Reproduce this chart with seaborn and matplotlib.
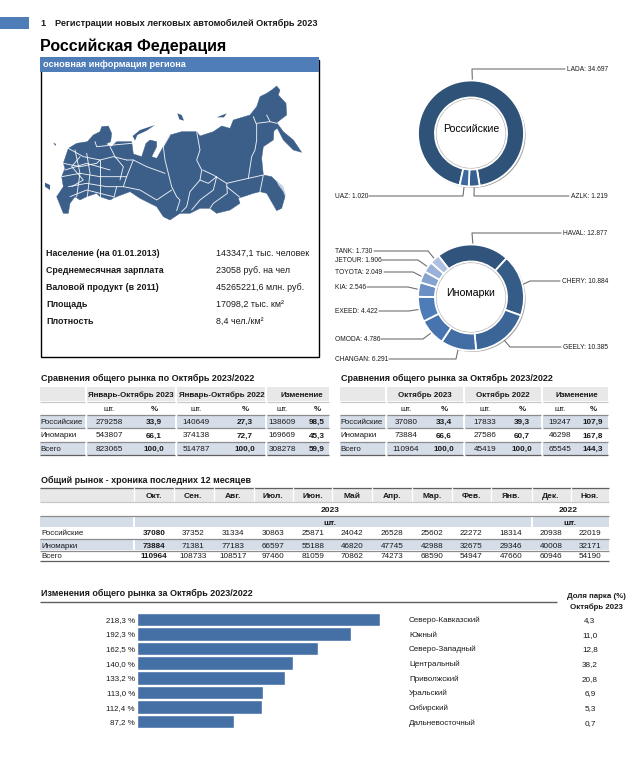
import numpy as np
import pandas as pd
import matplotlib
matplotlib.use("Agg")
import matplotlib.pyplot as plt
from matplotlib.patches import Polygon, Circle, Rectangle
import seaborn as sns

W, H = 632, 774

# data
info_labels = ["Население (на 01.01.2013)", "Среднемесячная зарплата", "Валовой продукт (в 2011)", "Площадь", "Плотность"]
info_values = ["143347,1 тыс. человек", "23058 руб. на чел", "45265221,6 млн. руб.", "17098,2 тыс. км²", "8,4 чел./км²"]

rus_brands = ["LADA", "AZLK", "UAZ"]
rus_values = [34.697, 1.219, 1.020]
imp_brands = ["HAVAL", "CHERY", "GEELY", "CHANGAN", "OMODA", "EXEED", "KIA", "TOYOTA", "JETOUR", "TANK"]
imp_values = [12.877, 10.884, 10.385, 6.291, 4.786, 4.422, 2.546, 2.049, 1.906, 1.730]

row_names = ["Российские", "Иномарки", "Всего"]
ytd_groups = ["Январь-Октябрь 2023", "Январь-Октябрь 2022", "Изменение"]
ytd_rus = [279258, 33.9, 140649, 27.3, 138609, 98.5]
ytd_imp = [543807, 66.1, 374138, 72.7, 169669, 45.3]
ytd_all = [823065, 100.0, 514787, 100.0, 308278, 59.9]
oct_groups = ["Октябрь 2023", "Октябрь 2022", "Изменение"]
oct_rus = [37080, 33.4, 17833, 39.3, 19247, 107.9]
oct_imp = [73884, 66.6, 27586, 60.7, 46298, 167.8]
oct_all = [110964, 100.0, 45419, 100.0, 65545, 144.3]

months = ["Окт.", "Сен.", "Авг.", "Июл.", "Июн.", "Май", "Апр.", "Мар.", "Фев.", "Янв.", "Дек.", "Ноя."]
hist_rus = [37080, 37352, 31334, 30863, 25871, 24042, 26528, 25602, 22272, 18314, 20938, 22019]
hist_imp = [73884, 71381, 77183, 66597, 55188, 46820, 47745, 42988, 32675, 29346, 40008, 32171]
hist_all = [110964, 108733, 108517, 97460, 81059, 70862, 74273, 68590, 54947, 47660, 60946, 54190]

districts = ["Северо-Кавказский", "Южный", "Северо-Западный", "Центральный", "Приволжский", "Уральский", "Сибирский", "Дальневосточный"]
change_pct = [218.3, 192.3, 162.5, 140.0, 133.2, 113.0, 112.4, 87.2]
park_share = [4.3, 11.0, 12.8, 38.2, 20.8, 6.9, 5.3, 0.7]

sns.set_theme(style="white")
plt.rcParams["font.family"] = ["Liberation Sans", "DejaVu Sans"]

BLUE = "#4f7db8"
BAND = "#d5dde9"
HEAD = "#e8e8e8"
LINE = "#8c8c8c"
DARK = "#5f5f5f"
INK = "#1a1a1a"

fig = plt.figure(figsize=(W / 100, H / 100), dpi=100, facecolor="white")


def px_axes(x0, y0, x1, y1, **kw):
    return fig.add_axes([x0 / W, 1 - y1 / H, (x1 - x0) / W, (y1 - y0) / H], **kw)


# overlay in page pixels for everything that is layout
page = px_axes(0, 0, W, H)
page.set_xlim(0, W)
page.set_ylim(H, 0)
page.axis("off")


def txt(x, y, s, size=5.7, bold=False, ha="left", color=INK):
    # baseline placement so rows with and without descenders line up
    page.text(x, y + 0.36 * size * 100 / 72, s, fontsize=size, fontweight="bold" if bold else "normal",
              ha=ha, va="baseline", color=color)


def hline(x0, x1, y, color=LINE, lw=0.9):
    page.plot([x0, x1], [y, y], color=color, lw=lw, solid_capstyle="butt")


def band(x0, x1, y0, y1, color=BAND):
    page.add_patch(Rectangle((x0, y0), x1 - x0, y1 - y0, fc=color, ec="none"))


def fmt(v):
    return f"{v:.1f}".replace(".", ",") if isinstance(v, float) else str(v)


# page header
band(0, 29, 17, 29, BLUE)
txt(40, 23, "1", 6.6, True)
txt(55, 23, "Регистрации новых легковых автомобилей Октябрь 2023", 6.55, True)
txt(40, 45.5, "Российская Федерация", 11.5, True, color="black")

# info box
page.add_patch(Rectangle((40.5, 60), 278, 297, fc="white", ec="black", lw=1))
band(40, 319, 57, 72, BLUE)
txt(43, 64, "основная информация региона", 6.6, True, color="white")

# map outline, traced by hand in page pixels
MAP = "#3c5f8a"
outline = np.array([
    (170, 590), (190, 560), (185, 530), (195, 505), (190, 490), (205, 445), (230, 430), (262, 425),
    (280, 405), (300, 395), (305, 380), (325, 378), (335, 400), (332, 425), (318, 432), (335, 440),
    (350, 425), (395, 425), (400, 462), (425, 470), (438, 430), (450, 420), (470, 425), (470, 440),
    (455, 470), (470, 475), (490, 440), (510, 405), (545, 395), (590, 395), (600, 408), (640, 395),
    (665, 378), (690, 385), (700, 360), (750, 345), (770, 320), (780, 290), (800, 280), (815, 270),
    (830, 258), (840, 270), (835, 285), (858, 310), (860, 345), (830, 368), (850, 395), (880, 420),
    (905, 457), (880, 450), (850, 420), (832, 385), (822, 392), (820, 420), (790, 440), (785, 475),
    (790, 525), (815, 530), (845, 560), (855, 590), (845, 625), (830, 632), (800, 580), (780, 575),
    (760, 580), (715, 595), (720, 610), (690, 630), (650, 640), (630, 625), (600, 625), (570, 640),
    (540, 640), (510, 660), (490, 650), (470, 620), (420, 595), (390, 575), (350, 590), (330, 600),
    (300, 590), (290, 580), (260, 590), (240, 600), (225, 590), (210, 610), (205, 640), (190, 640),
]) / 3
islands = [
    [(398, 408), (420, 390), (465, 375), (440, 392), (412, 405), (405, 422)],
    [(135, 548), (150, 555), (150, 570), (135, 560)],
    [(532, 340), (545, 345), (552, 362), (538, 358)],
    [(650, 352), (680, 340), (672, 352)],
    [(160, 428), (168, 432), (166, 438)],
]
sakhalin = [(828, 540), (850, 560), (860, 592), (852, 578), (835, 555)]
borders = [
    [(590, 395), (600, 450), (590, 480), (605, 510), (600, 540), (570, 575), (560, 620), (545, 635)],
    [(510, 405), (490, 440), (495, 480), (505, 520), (515, 560), (530, 590), (540, 600), (530, 632)],
    [(760, 350), (770, 375), (770, 420), (765, 450), (755, 470), (745, 535), (680, 550), (640, 525), (608, 510)],
    [(745, 535), (790, 525), (780, 575)],
    [(770, 370), (810, 365), (830, 370)], [(800, 345), (810, 365)],
    [(380, 480), (400, 480), (440, 500), (495, 520)],
    [(400, 480), (380, 530), (370, 560), (420, 570), (470, 600), (515, 570)],
    [(650, 530), (640, 570), (600, 600), (575, 630)], [(600, 540), (625, 550), (650, 530)],
    [(680, 550), (682, 580), (640, 610), (630, 625)], [(720, 592), (680, 560)],
    [(205, 445), (250, 470), (300, 480), (340, 470), (380, 480)],
    [(285, 425), (290, 440), (340, 435), (395, 430)], [(330, 440), (345, 470), (370, 500), (360, 540)],
    [(190, 490), (240, 500), (290, 490), (300, 480)], [(185, 530), (240, 520), (300, 530), (380, 530)],
    [(205, 560), (260, 550), (320, 560), (370, 560)], [(225, 450), (240, 520), (230, 590)],
    [(260, 460), (270, 520), (262, 590)], [(300, 480), (300, 530), (300, 590)],
    [(195, 510), (260, 490), (330, 510)], [(210, 590), (260, 570), (340, 590)],
    [(240, 470), (215, 500), (250, 540), (215, 560)], [(350, 560), (340, 600)],
]
page.add_patch(Polygon(outline, fc=MAP, ec=MAP, lw=0.3))
page.add_patch(Polygon(np.array(sakhalin) / 3, fc="#c4d0e0", ec="none"))
for isl in islands:
    page.add_patch(Polygon(np.array(isl) / 3, fc=MAP, ec="none"))
for b in borders:
    b = np.array(b) / 3
    page.plot(b[:, 0], b[:, 1], color="white", lw=0.65, alpha=0.9)

for y, a, b in zip([253, 270, 287, 304, 321], info_labels, info_values):
    txt(46, y, a, 6.4, True)
    txt(216, y, b, 6.4)


def donut(cx, cy, brands, values, colors, start, center, center_y, layout):
    r = 53
    # soft shadow and inner hairline sit underneath the ring
    page.add_patch(Circle((cx + 1.6, cy + 1.4), r, fc="#a6a6a6", ec="none"))
    page.add_patch(Circle((cx, cy), r + 0.5, fc="white", ec="none"))
    page.add_patch(Circle((cx, cy), r - 18, fc="white", ec="#b5b5b5", lw=0.8, zorder=3))
    ax = px_axes(cx - r, cy - r, cx + r, cy + r)
    ax.patch.set_alpha(0)
    wedges, _ = ax.pie(values, colors=colors, startangle=start, counterclock=False, radius=1,
                       wedgeprops=dict(width=0.32, edgecolor="white", linewidth=1.3))
    ax.set_xlim(-1, 1)
    ax.set_ylim(-1, 1)
    for w in wedges:
        w.set_clip_on(False)
    ax.text(0, (cy - center_y) / r, center, fontsize=7.6, ha="center", va="center", color="black")
    for w, name, val, (tx, ty, ex, side) in zip(wedges, brands, values, layout):
        t = np.deg2rad((w.theta1 + w.theta2) / 2)
        sx, sy = cx + r * np.cos(t), cy - r * np.sin(t)
        s = f"{name}: {val:.3f}"
        if side == "l":
            page.plot([sx, ex, tx - 2], [sy, ty, ty], color="#707070", lw=0.8)
            txt(tx, ty, s, 4.75)
        else:
            page.plot([sx, ex, tx + 2], [sy, ty, ty], color="#707070", lw=0.8)
            txt(335, ty, s, 4.75)


rus_colors = ["#2f5278", "#36608f", "#3c6a9e"]
imp_colors = ["#31547c", "#355b87", "#3c6597", "#436ea5", "#4774ae", "#4d7cb9", "#6a8fc4", "#86a2cf", "#9bb2d8", "#adc0df"]
# text x, text y, elbow x, side of the line the text is on
donut(471, 133.5, rus_brands, rus_values, rus_colors, -102.4, "Российские", 129,
      [(567, 69, 472, "l"), (571, 196, 474, "l"), (367, 196, 463, "r")])
donut(471, 297.5, imp_brands, imp_values, imp_colors, 128, "Иномарки", 293,
      [(563, 233, 472, "l"), (562, 281, 530, "l"), (563, 347, 510, "l"),
       (387, 359, 456, "r"), (379, 339, 423, "r"), (377, 311, 409, "r"),
       (365, 287, 408, "r"), (382, 272, 413, "r"), (380, 260, 418, "r"), (372, 251, 428, "r")])


def compare_table(x0, x1, breaks, group_x, col_x, groups, rows, title):
    txt(x0 + 1, 378, title, 6.5, True)
    edges = [(x0, breaks[0] - 1)] + [(a + 1, b - 1) for a, b in zip(breaks, breaks[1:] + [x1])]
    for a, b in edges:
        band(a, b, 387, 401, HEAD)
        band(a, b, 414.5, 428)
        band(a, b, 442, 455)
        for y, c in [(401.5, "#c8c8c8"), (414.5, LINE), (428, LINE), (442, LINE), (455, DARK)]:
            hline(a, b, y, c)
    for x, g in zip(group_x, groups):
        txt(x, 394, g, 5.75, True, ha="center")
    for i, x in enumerate(col_x):
        txt(x, 408, "шт." if i % 2 == 0 else "%", 5.7, i % 2 == 1, ha="center")
    for y, name, row in zip([421, 434.5, 448], row_names, rows):
        txt(x0 + 0.5, y, name, 5.7)
        for i, (x, v) in enumerate(zip(col_x, row)):
            txt(x, y, fmt(v), 5.9, i % 2 == 1, ha="center")


compare_table(40, 330, [86, 176, 266], [131, 222, 302], [109, 154, 196, 245, 282, 317],
              ytd_groups, [ytd_rus, ytd_imp, ytd_all], "Сравнения общего рынка по Октябрь 2023/2022")
compare_table(340, 609, [386, 464, 542], [425, 503, 577], [406, 444, 485, 522, 560, 593],
              oct_groups, [oct_rus, oct_imp, oct_all], "Сравнения общего рынка за Октябрь 2023/2022")

# 12 month history
txt(41, 480, "Общий рынок - хроника последних 12 месяцев", 6.5, True)
month_x = [154, 193, 233, 273, 313, 352, 392, 432, 471, 511, 551, 590]
month_breaks = [134, 174, 214, 254, 293, 332, 372, 412, 452, 491, 532, 571]
band(40, 609, 488, 502, HEAD)
hline(40, 609, 488, DARK)
for b in month_breaks:
    page.plot([b, b], [488, 502], color="white", lw=1)
hline(40, 609, 502, "#c8c8c8")
band(40, 133, 516, 527)
band(135, 531, 516, 527)
band(533, 609, 516, 527)
hline(40, 609, 516, LINE)
txt(330, 509, "2023", 6, True, ha="center")
txt(568, 509, "2022", 6, True, ha="center")
txt(330, 522, "шт.", 6, True, ha="center")
txt(570, 522, "шт.", 6, True, ha="center")
band(40, 133, 539, 550)
band(135, 609, 539, 550)
hline(40, 609, 539, LINE)
hline(40, 609, 550.5, LINE)
hline(40, 609, 561, DARK)
for x, m in zip(month_x, months):
    txt(x, 495.5, m, 6, True, ha="center")
for y, name, row in zip([532, 545, 555.5], row_names, [hist_rus, hist_imp, hist_all]):
    txt(41, y, name, 5.7)
    for i, (x, v) in enumerate(zip(month_x, row)):
        txt(x, y, str(v), 5.9, i == 0, ha="center")

# district bars
txt(41, 593, "Изменения общего рынка за Октябрь 2023/2022", 6.5, True)
hline(40, 557, 601.5, DARK, 1)
txt(596, 595, "Доля парка (%)", 5.7, True, ha="center")
txt(596, 606, "Октябрь 2023", 5.7, True, ha="center")

bars = pd.DataFrame({"district": districts, "change": change_pct})
ax = px_axes(137, 612, 380, 729)
ax.patch.set_alpha(0)
sns.barplot(data=bars, x="change", y="district", color="#4470a6", saturation=1, width=0.93, ax=ax)
ax.set_xlim(0, max(change_pct))
ax.set_ylim(len(districts) - 0.5, -0.5)
ax.set_xlabel("")
ax.set_ylabel("")
ax.set_xticks([])
ax.set_yticks(range(len(districts)))
ax.set_yticklabels([f"{fmt(v)} %" for v in change_pct], fontsize=5.7, color=INK)
ax.tick_params(axis="y", length=0, pad=1.5)
sns.despine(ax=ax, left=True, bottom=True)
for i, (d, s) in enumerate(zip(districts, park_share)):
    y = 612 + (i + 0.5) * (729 - 612) / len(districts)
    txt(409, y, d, 5.8)
    txt(590, y, fmt(s), 5.9, ha="center")

fig.savefig("out.png", dpi=100)
